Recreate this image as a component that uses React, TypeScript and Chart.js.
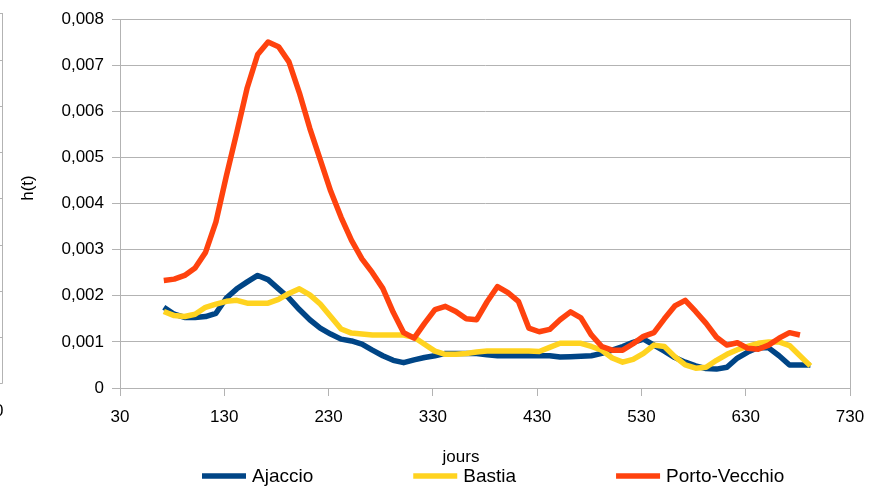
import React, { useEffect, useRef } from "react";
import { Chart, registerables } from "chart.js";

Chart.register(...registerables);

// ---------- data ----------
const days = [
  72, 82, 92, 102, 112, 122, 132, 142, 152, 162,
  172, 182, 192, 202, 212, 222, 232, 242, 252, 262,
  272, 282, 292, 302, 312, 322, 332, 342, 352, 362,
  372, 382, 392, 402, 412, 422, 432, 442, 452, 462,
  472, 482, 492, 502, 512, 522, 532, 542, 552, 562,
  572, 582, 592, 602, 612, 622, 632, 642, 652, 662,
  672, 682, 692,
];

const ajaccio = [
  0.00175, 0.0016, 0.00153, 0.00153, 0.00155, 0.00162, 0.00195, 0.00215, 0.0023, 0.00244,
  0.00235, 0.00215, 0.00195, 0.0017, 0.00148, 0.0013, 0.00117, 0.00106, 0.00102, 0.00095,
  0.00082, 0.0007, 0.0006, 0.00055, 0.00061, 0.00066, 0.0007, 0.00075, 0.00075, 0.00075,
  0.00075, 0.00072, 0.0007, 0.0007, 0.0007, 0.0007, 0.0007, 0.0007, 0.00067, 0.00068,
  0.00069, 0.0007, 0.00075, 0.00082, 0.0009, 0.00099, 0.00106, 0.00093, 0.0008, 0.00066,
  0.00056, 0.00048, 0.00042, 0.00041, 0.00045, 0.00065, 0.00078, 0.00088, 0.00087, 0.0007,
  0.0005, 0.0005, 0.0005,
];

const bastia = [
  0.00166, 0.00157, 0.00155, 0.0016, 0.00175, 0.00182, 0.00188, 0.0019, 0.00184, 0.00184,
  0.00184, 0.00192, 0.00205, 0.00215, 0.00202, 0.00182, 0.00155, 0.00128, 0.00119, 0.00117,
  0.00115, 0.00115, 0.00115, 0.00115, 0.0011, 0.00095, 0.0008, 0.00073, 0.00073, 0.00075,
  0.00078, 0.0008, 0.0008, 0.0008, 0.0008, 0.0008, 0.00079, 0.00088, 0.00097, 0.00097,
  0.00097, 0.0009, 0.00082, 0.00065, 0.00056, 0.00062, 0.00075, 0.00093, 0.0009, 0.00068,
  0.0005, 0.00043, 0.00045, 0.0006, 0.00073, 0.00083, 0.0009, 0.00097, 0.001, 0.001,
  0.00092, 0.0007, 0.00048,
];

const portoVecchio = [
  0.00233, 0.00236, 0.00244, 0.0026, 0.00294, 0.0036, 0.0046, 0.00554, 0.00651, 0.00723,
  0.0075, 0.0074, 0.00707, 0.0064, 0.00563, 0.00495, 0.00427, 0.0037, 0.0032, 0.0028,
  0.0025, 0.00216, 0.00164, 0.0012, 0.00108, 0.0014, 0.0017, 0.00177, 0.00166, 0.0015,
  0.00148, 0.00187, 0.0022, 0.00207, 0.00188, 0.0013, 0.00122, 0.00127, 0.00148, 0.00165,
  0.00152, 0.00115, 0.0009, 0.00082, 0.00082, 0.00096, 0.00112, 0.0012, 0.0015, 0.00178,
  0.0019, 0.00166, 0.0014, 0.0011, 0.00093, 0.00098, 0.00086, 0.00084, 0.00093, 0.00108,
  0.0012, 0.00115,
];

const seriesNames = ["Ajaccio", "Bastia", "Porto-Vecchio"];
const seriesColors = ["#004586", "#ffd320", "#ff420e"];

const xTicks = [30, 130, 230, 330, 430, 530, 630, 730];
const yTickLabels = ["0", "0,001", "0,002", "0,003", "0,004", "0,005", "0,006", "0,007", "0,008"];

const xTitle = "jours";
const yTitle = "h(t)";

// ---------- helpers ----------
const FONT = '"Liberation Sans", Arial, sans-serif';
const GRID = "#b3b3b3";

function toPoints(values: number[]) {
  return values.map((v, i) => ({ x: days[i], y: v }));
}

const decorPlugin = {
  id: "decor",
  afterDraw(chart: any) {
    const ctx = chart.ctx as CanvasRenderingContext2D;
    ctx.save();

    // remnant of a neighbouring chart at the left edge
    ctx.strokeStyle = GRID;
    ctx.lineWidth = 1;
    ctx.beginPath();
    ctx.moveTo(2.5, 13);
    ctx.lineTo(2.5, 383.5);
    const step = (383.3 - 13.3) / 8;
    for (let i = 0; i <= 8; i++) {
      const y = Math.round(13.3 + i * step) + 0.5;
      ctx.moveTo(0, y);
      ctx.lineTo(2.5, y);
    }
    ctx.stroke();
    ctx.fillStyle = "#000";
    ctx.font = `17px ${FONT}`;
    ctx.textAlign = "right";
    ctx.textBaseline = "middle";
    ctx.fillText("0", 3.5, 411);

    // axis titles
    ctx.textAlign = "center";
    ctx.textBaseline = "middle";
    ctx.font = `17px ${FONT}`;
    ctx.save();
    ctx.translate(28, 188);
    ctx.rotate(-Math.PI / 2);
    ctx.fillText(yTitle, 0, 0);
    ctx.restore();
    ctx.fillText(xTitle, 461, 457);

    // legend
    ctx.font = `19px ${FONT}`;
    ctx.textAlign = "left";
    let x = 202;
    const y = 476;
    chart.data.datasets.forEach((ds: any) => {
      ctx.strokeStyle = ds.borderColor;
      ctx.lineWidth = 5.5;
      ctx.lineCap = "butt";
      ctx.beginPath();
      ctx.moveTo(x, y);
      ctx.lineTo(x + 44, y);
      ctx.stroke();
      ctx.fillStyle = "#000";
      ctx.fillText(ds.label, x + 50, y + 1);
      x += 50 + ctx.measureText(ds.label).width + 100;
    });

    ctx.restore();
  },
};

export default function App() {
  const canvasRef = useRef<HTMLCanvasElement | null>(null);

  useEffect(() => {
    document.body.style.margin = "0";
    const canvas = canvasRef.current;
    if (!canvas) return;

    const seriesValues = [ajaccio, bastia, portoVecchio];
    const datasets = seriesValues.map((vals, i) => ({
      label: seriesNames[i],
      data: toPoints(vals),
      borderColor: seriesColors[i],
      backgroundColor: seriesColors[i],
      borderWidth: 5.5,
      pointRadius: 0,
      pointHoverRadius: 0,
      tension: 0,
      fill: false,
      borderJoinStyle: "round" as const,
      borderCapStyle: "butt" as const,
      order: 3 - i,
    }));

    const chart = new Chart(canvas, {
      type: "line",
      data: { datasets },
      options: {
        animation: false,
        responsive: false,
        maintainAspectRatio: false,
        layout: { padding: { top: 19, right: 31, bottom: 0, left: 0 } },
        plugins: {
          legend: { display: false },
          tooltip: { enabled: false },
          title: { display: false },
        },
        scales: {
          x: {
            type: "linear",
            min: xTicks[0],
            max: xTicks[xTicks.length - 1],
            afterBuildTicks: (scale: any) => {
              scale.ticks = xTicks.map((v) => ({ value: v }));
            },
            afterFit: (scale: any) => {
              scale.height = 102;
            },
            ticks: {
              color: "#000",
              font: { family: FONT, size: 17 },
              padding: 11,
              maxRotation: 0,
              callback: (v: any) => String(v),
            },
            grid: {
              color: (c: any) => (c.tick && c.tick.value === 730 ? GRID : "rgba(0,0,0,0)"),
              tickColor: GRID,
              tickLength: 8,
              lineWidth: 1,
            },
            border: { display: true, color: GRID },
          },
          y: {
            type: "linear",
            min: 0,
            max: 0.008,
            afterBuildTicks: (scale: any) => {
              scale.ticks = yTickLabels.map((_, i) => ({ value: i * 0.001 }));
            },
            afterFit: (scale: any) => {
              scale.width = 120;
            },
            ticks: {
              color: "#000",
              font: { family: FONT, size: 17 },
              padding: 8,
              callback: (_v: any, i: number) => yTickLabels[i],
            },
            grid: {
              color: GRID,
              tickColor: GRID,
              tickLength: 8,
              lineWidth: 1,
            },
            border: { display: true, color: GRID },
          },
        },
      },
      plugins: [decorPlugin],
    });

    return () => chart.destroy();
  }, []);

  return (
    <div style={{ width: 881, height: 490, background: "#fff" }}>
      <canvas ref={canvasRef} width={881} height={490} style={{ display: "block" }} />
    </div>
  );
}
